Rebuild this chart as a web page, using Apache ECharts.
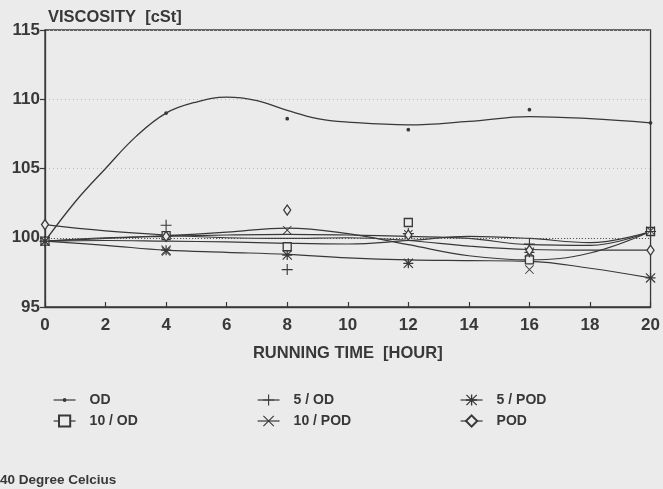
<!DOCTYPE html>
<html>
<head>
<meta charset="utf-8">
<script src="https://cdn.jsdelivr.net/npm/echarts@6/dist/echarts.min.js"></script>
<style>
  html, body { margin: 0; padding: 0; background: #ebebeb; }
  #chart { width: 663px; height: 489px; }
</style>
</head>
<body>
<div id="chart"></div>
<script>
// ---- data ----
const xTicks = [0, 2, 4, 6, 8, 10, 12, 14, 16, 18, 20];
const yTicks = [95, 100, 105, 110, 115];
const refValue = [100];

// fitted curves
const odCurveHours = [0, 1, 2, 3, 4, 5, 6, 7, 8, 9, 10, 12, 14, 16, 18, 20];
const odCurve      = [99.75, 102.6, 105.0, 107.3, 109.0, 109.8, 110.15, 109.9, 109.2, 108.6, 108.35, 108.15, 108.4, 108.75, 108.6, 108.3];
const curveHours = [0, 2, 4, 6, 8, 10, 12, 14, 16, 18, 20];
const od5Curve   = [99.75, 99.8, 99.75, 99.7, 99.6, 99.55, 99.8, 100.1, 99.95, 99.65, 100.45];
const od10Curve  = [99.75, 100.0, 100.1, 100.2, 100.25, 100.2, 100.1, 99.95, 99.5, 99.45, 100.45];
const pod5Curve  = [99.75, 99.45, 99.1, 98.95, 98.8, 98.55, 98.4, 98.35, 98.3, 97.8, 97.1];
const pod10Curve = [99.75, 99.95, 100.15, 100.4, 100.7, 100.3, 99.5, 98.7, 98.4, 98.9, 100.45];
const podCurve   = [100.95, 100.5, 100.2, 100.0, 99.95, 100.0, 99.8, 99.4, 99.15, 99.1, 99.1];

// measured points
const sampleHours = [0, 4, 8, 12, 16, 20];
const odPoints    = [99.75, 109.0, 108.6, 107.8, 109.25, 108.3];
const od5Points   = [99.75, 100.9, 97.7, 100.3, 99.55, 100.45];
const od10Points  = [99.75, 100.15, 99.35, 101.1, 98.4, 100.45];
const pod5Points  = [99.75, 99.1, 98.75, 98.15, 98.95, 97.1];
const pod10Points = [99.75, 99.0, 100.55, 100.25, 97.7, 100.5];
const podPoints   = [100.95, 100.1, 102.0, 100.2, 99.1, 99.1];

// ---- styles ----
const INK = '#383838';
const BG = '#ebebeb';
const FONT = 'Liberation Sans, Arial, sans-serif';

const DOT = 'path://M33,50 A17,17 0 1,0 67,50 A17,17 0 1,0 33,50 Z M0,0 L0.1,0 L0.1,0.1 Z M100,100 L99.9,100 L99.9,99.9 Z';
const PLUS = 'path://M45,0 L55,0 L55,45 L100,45 L100,55 L55,55 L55,100 L45,100 L45,55 L0,55 L0,45 L45,45 Z';
const CROSS = 'path://M7,0 L100,93 L93,100 L0,7 Z M93,0 L100,7 L7,100 L0,93 Z';
const STAR = 'path://M44,0 L56,0 L56,100 L44,100 Z M0,44 L100,44 L100,56 L0,56 Z M8,0 L100,92 L92,100 L0,8 Z M92,0 L100,8 L8,100 L0,92 Z';

function pairs(xs, ys) { return xs.map((x, i) => [x, ys[i]]); }

function curve(id, xs, ys, w) {
  return {
    type: 'line', name: id, data: pairs(xs, ys), smooth: 0.4,
    showSymbol: false, symbol: 'none', silent: true, z: 2,
    lineStyle: { color: INK, width: w || 1.2 }
  };
}
function points(name, ys, symbol, size, hollow) {
  return {
    type: 'line', name: name, data: pairs(sampleHours, ys),
    symbol: symbol, symbolSize: size, showSymbol: true, z: 5,
    lineStyle: { opacity: 0, color: INK },
    itemStyle: hollow
      ? { color: BG, borderColor: INK, borderWidth: 1.3 }
      : { color: INK, borderWidth: 0 }
  };
}

const chart = echarts.init(document.getElementById('chart'), null, { renderer: 'canvas' });

const legendBase = {
  orient: 'vertical', top: 388, itemWidth: 22, itemHeight: 14, itemGap: 7,
  selectedMode: false,
  lineStyle: { color: INK, width: 1.2, opacity: 1 },
  textStyle: { fontFamily: FONT, fontSize: 14, fontWeight: 'bold', color: INK, padding: [0, 0, 0, 9] }
};

chart.setOption({
  backgroundColor: BG,
  animation: false,
  title: {
    text: 'VISCOSITY  [cSt]', left: 43, top: 4,
    textStyle: { fontFamily: FONT, fontSize: 16.5, fontWeight: 'bold', color: INK }
  },
  grid: { left: 45, right: 10, top: 30, bottom: 182, show: true, borderColor: INK, borderWidth: 1.3, backgroundColor: 'transparent' },
  xAxis: {
    type: 'value', min: xTicks[0], max: xTicks[xTicks.length - 1], interval: 2,
    name: 'RUNNING TIME  [HOUR]', nameLocation: 'middle', nameGap: 38,
    nameTextStyle: { fontFamily: FONT, fontSize: 16.5, fontWeight: 'bold', color: INK },
    axisLine: { lineStyle: { color: INK, width: 1.3 } },
    axisTick: { inside: true, length: 5, lineStyle: { color: INK, width: 1.2 } },
    axisLabel: { fontFamily: FONT, fontSize: 17, fontWeight: 'bold', color: INK, margin: 10 },
    splitLine: { show: false }
  },
  yAxis: {
    type: 'value', min: yTicks[0], max: yTicks[yTicks.length - 1], interval: 5,
    axisLine: { show: true, lineStyle: { color: INK, width: 1.3 } },
    axisTick: { show: true, inside: false, length: 5, lineStyle: { color: INK, width: 1.2 } },
    axisLabel: { fontFamily: FONT, fontSize: 17, fontWeight: 'bold', color: INK, margin: 5 },
    splitLine: { show: true, lineStyle: { color: '#bdbdbd', type: [1, 3], width: 1 } }
  },
  legend: [
    Object.assign({}, legendBase, { left: 48, data: ['OD', '10 / OD'] }),
    Object.assign({}, legendBase, { left: 252, data: ['5 / OD', '10 / POD'] }),
    Object.assign({}, legendBase, { left: 455, data: ['5 / POD', 'POD'] })
  ],
  graphic: [{
    type: 'text', left: 0, top: 473,
    style: { text: '40 Degree Celcius', fontFamily: FONT, fontSize: 13.5, fontWeight: 'bold', fill: INK }
  }],
  series: [
    Object.assign(curve('c-od', odCurveHours, odCurve, 1.3), {
      markLine: {
        silent: true, symbol: 'none', label: { show: false },
        lineStyle: { color: '#555', type: [1, 2], width: 1 },
        data: refValue.map(v => ({ yAxis: v }))
      }
    }),
    curve('c-5od', curveHours, od5Curve),
    curve('c-10od', curveHours, od10Curve),
    curve('c-5pod', curveHours, pod5Curve),
    curve('c-10pod', curveHours, pod10Curve),
    curve('c-pod', curveHours, podCurve),
    points('OD', odPoints, DOT, 11, false),
    points('10 / OD', od10Points, 'rect', 8, true),
    points('5 / OD', od5Points, PLUS, 11, false),
    points('10 / POD', pod10Points, CROSS, 9, false),
    points('5 / POD', pod5Points, STAR, 10, false),
    points('POD', podPoints, 'diamond', [7, 10], true)
  ]
});
</script>
</body>
</html>
